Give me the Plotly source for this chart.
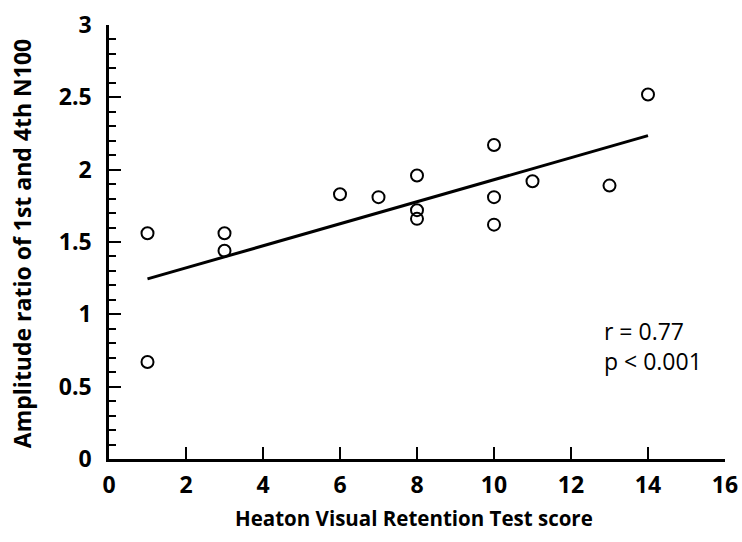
import numpy as np
import plotly.graph_objects as go

# Data
heaton_score = [1, 1, 3, 3, 6, 7, 8, 8, 8, 10, 10, 10, 11, 13, 14]
amp_ratio = [1.56, 0.67, 1.56, 1.44, 1.83, 1.81, 1.96, 1.72, 1.66, 2.17, 1.81, 1.62, 1.92, 1.89, 2.52]
x_ticks = [0, 2, 4, 6, 8, 10, 12, 14, 16]
y_ticks = [0, 0.5, 1, 1.5, 2, 2.5, 3]
y_tick_labels = ["0", "0.5", "1", "1.5", "2", "2.5", "3"]
stats_text = ["r = 0.77", "p < 0.001"]

slope, intercept = np.polyfit(heaton_score, amp_ratio, 1)
fit_x = [min(heaton_score), max(heaton_score)]
fit_y = [slope * v + intercept for v in fit_x]

FONT = "Open Sans"

fig = go.Figure()
fig.add_trace(go.Scatter(x=fit_x, y=fit_y, mode="lines",
                         line=dict(color="black", width=3), showlegend=False))
fig.add_trace(go.Scatter(x=heaton_score, y=amp_ratio, mode="markers",
                         marker=dict(symbol="circle-open", size=12, color="black",
                                     line=dict(width=2, color="black")),
                         showlegend=False))

axis_font = dict(family=FONT, size=23, color="black", weight="bold")

fig.update_layout(
    width=742, height=542,
    margin=dict(l=109, r=17, t=25, b=83),
    paper_bgcolor="white", plot_bgcolor="white",
    xaxis=dict(range=[0, 16], tickvals=x_ticks, ticks="inside", ticklen=12,
               tickwidth=2, tickcolor="black", showline=True, linecolor="black",
               linewidth=2.5, showgrid=False, zeroline=False, tickfont=axis_font,
               ticklabelstandoff=4, automargin=False),
    yaxis=dict(range=[0, 3], tickvals=y_ticks, ticktext=y_tick_labels,
               ticks="inside", ticklen=12, tickwidth=2, tickcolor="black",
               showline=True, linecolor="black", linewidth=2.5, showgrid=False,
               zeroline=False, tickfont=axis_font, ticklabelstandoff=10,
               automargin=False,
               minor=dict(dtick=0.1, ticks="inside", ticklen=7, tickwidth=2,
                          tickcolor="black", showgrid=False)),
    annotations=[
        dict(text="Heaton Visual Retention Test score", xref="paper", yref="paper",
             x=0.495, y=0, yshift=-59, showarrow=False, yanchor="middle",
             font=dict(family=FONT, size=20.5, color="black", weight="bold")),
        dict(text="Amplitude ratio of 1st and 4th N100", xref="paper", yref="paper",
             x=0, xshift=-87, y=0.495, textangle=-90, showarrow=False,
             xanchor="center", yanchor="middle",
             font=dict(family=FONT, size=23, color="black", weight="bold")),
        dict(text=stats_text[0] + "<br>" + stats_text[1], xref="x", yref="y",
             x=12.8, y=0.78, showarrow=False, xanchor="left", yanchor="middle",
             align="left",
             font=dict(family=FONT, size=23, color="black")),
    ],
)

fig.write_html("out.html")
